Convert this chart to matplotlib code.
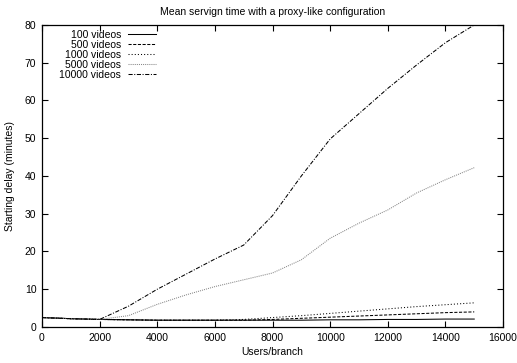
import matplotlib
matplotlib.use('Agg')
from matplotlib import pyplot as plt

users = [0, 1000, 2000, 3000, 4000, 5000, 6000, 7000, 8000, 9000, 10000,
         11000, 12000, 13000, 14000, 15000]

v100 = [2.5, 2.2, 2.0, 1.9, 1.8, 1.8, 1.8, 1.8, 1.8, 1.8, 1.9,
        1.9, 2.0, 2.0, 2.1, 2.1]
v500 = [2.5, 2.2, 2.0, 1.9, 1.8, 1.8, 1.8, 1.8, 2.0, 2.3, 2.6,
        2.9, 3.2, 3.5, 3.8, 4.0]
v1000 = [2.5, 2.2, 2.0, 1.9, 1.8, 1.8, 1.8, 2.0, 2.5, 3.0, 3.6,
         4.2, 4.8, 5.4, 5.9, 6.4]
v5000 = [2.5, 2.2, 2.0, 3.0, 6.0, 8.5, 10.7, 12.5, 14.3, 17.8, 23.5,
         27.5, 31.0, 35.5, 39.0, 42.2]
v10000 = [2.5, 2.2, 2.0, 5.5, 10.0, 14.0, 18.0, 21.7, 29.5, 40.0, 49.8,
          56.5, 63.2, 69.4, 75.3, 80.0]

labels = ['100 videos', '500 videos', '1000 videos', '5000 videos', '10000 videos']

plt.rcParams['font.family'] = ['Liberation Sans', 'DejaVu Sans']
plt.rcParams['font.size'] = 7.5

fig = plt.figure(figsize=(5.17, 3.63), dpi=100)
ax = fig.add_axes([0.0812, 0.0992, 0.8918, 0.832])

lw = 0.75
ax.plot(users, v100, color='black', lw=lw, linestyle='-', label=labels[0])
ax.plot(users, v500, color='black', lw=lw, linestyle=(0, (3, 1.5)), label=labels[1])
ax.plot(users, v1000, color='black', lw=lw, linestyle=(0, (1, 2)), label=labels[2])
ax.plot(users, v5000, color='#888888', lw=lw, linestyle=(0, (1, 1)), label=labels[3])
ax.plot(users, v10000, color='black', lw=lw, linestyle=(0, (4, 1.5, 1, 1.5)), label=labels[4])

ax.set_xlim(0, 16000)
ax.set_ylim(0, 80)
ax.set_xticks(range(0, 16001, 2000))
ax.set_yticks(range(0, 81, 10))
ax.tick_params(direction='in', top=True, right=True, length=4, width=0.8, pad=4)
for s in ax.spines.values():
    s.set_linewidth(0.9)

ax.set_title('Mean servign time with a proxy-like configuration', fontsize=7.5, pad=7)
ax.set_xlabel('Users/branch', labelpad=3)
ax.set_ylabel('Starting delay (minutes)', labelpad=7)

ax.legend(loc='upper left', bbox_to_anchor=(0.02, 1.01), frameon=False, markerfirst=False,
          handlelength=2.7, handletextpad=0.7, labelspacing=0.0, borderpad=0.25)

fig.savefig('out.png', dpi=100)
